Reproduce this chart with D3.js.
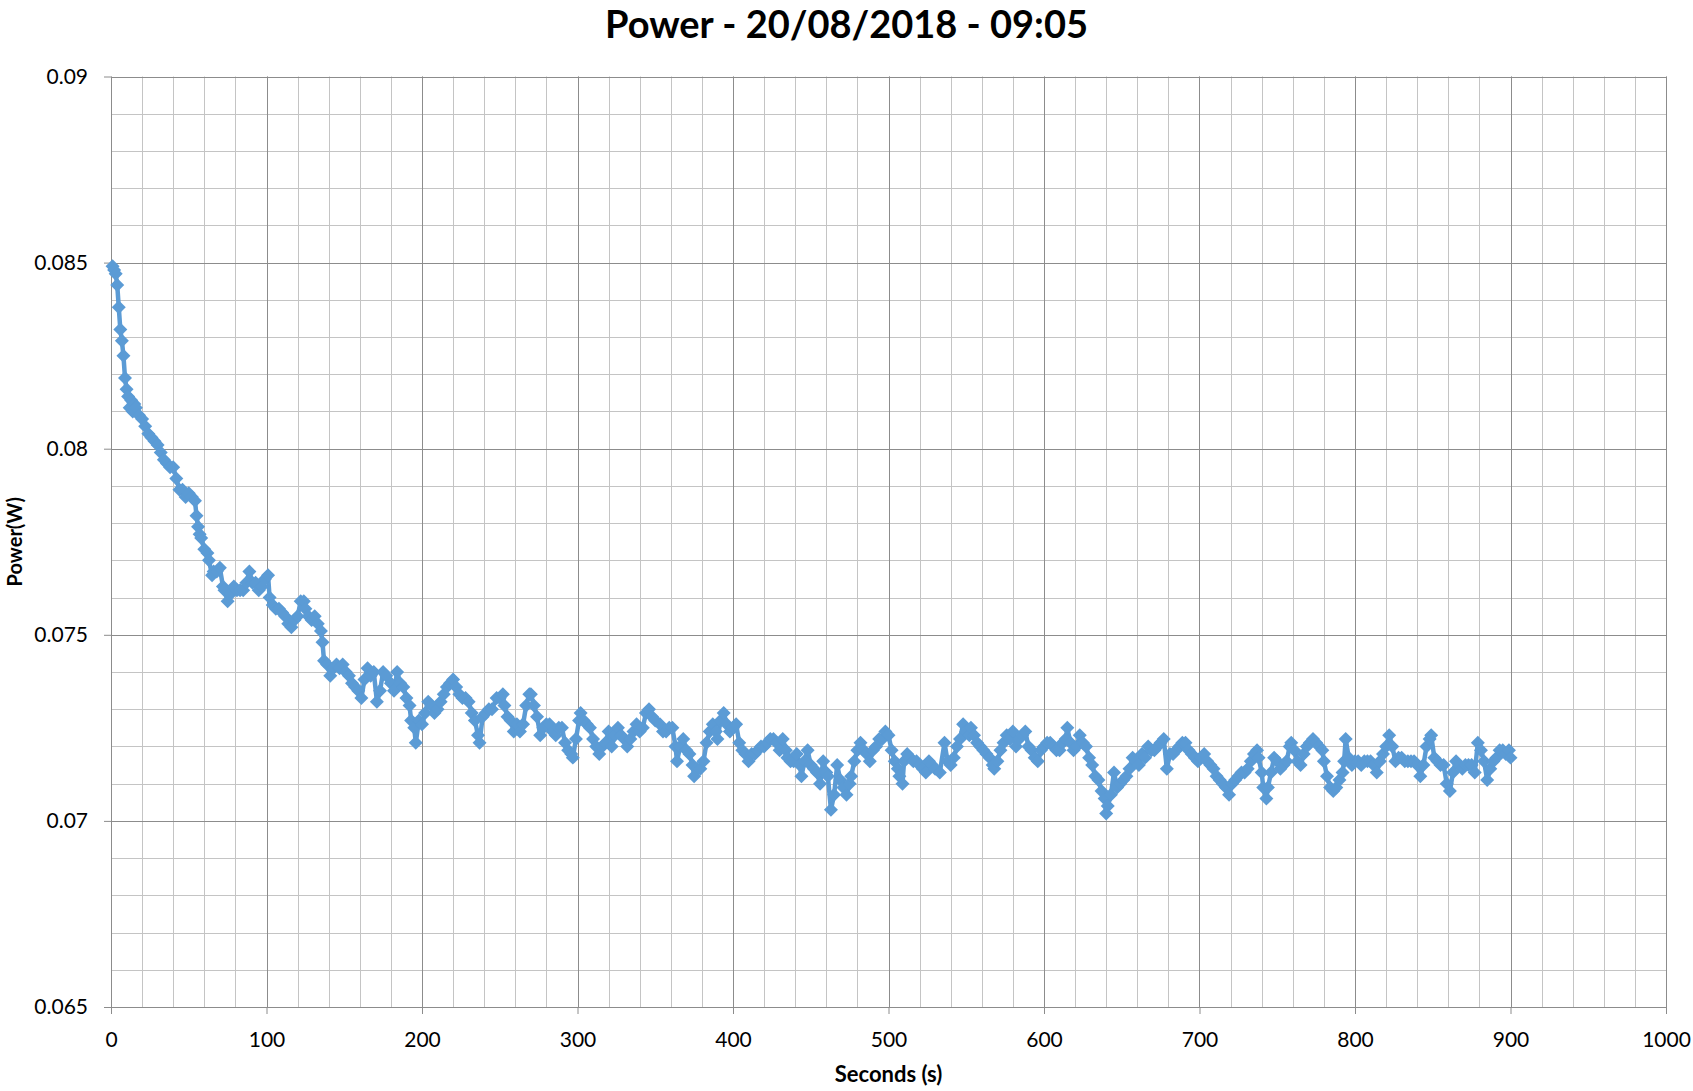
<!DOCTYPE html>
<html>
<head>
<meta charset="utf-8">
<script src="https://cdn.jsdelivr.net/npm/d3@7"></script>
<style>
    body { margin: 0; background: #ffffff; }
    .gridMinor { stroke: #c4c4c4; stroke-width: 1; }
    .gridMajor { stroke: #8c8c8c; stroke-width: 1; }
    .axis path { display: none; }
    .axis line { stroke: #8c8c8c; }
    .axis text { font-family: Lato, "Open Sans", sans-serif; font-size: 21px; fill: #000; }
</style>
</head>
<body>
<script>
//wrap everything in a self-executing anonymous function to move to local scope
(function(){

    //chart texts
    var chartTitle = "Power - 20/08/2018 - 09:05";
    var xTitle = "Seconds (s)";
    var yTitle = "Power(W)";

    //tick labels
    var xTicks = [0, 100, 200, 300, 400, 500, 600, 700, 800, 900, 1000];
    var yTicks = [0.065, 0.07, 0.075, 0.08, 0.085, 0.09];

    //seconds of each reading
    var seconds = [1,2,3,4,5,6,7,8,9,10,11,12,13,14,15,16,18,20,22,24,26,28,30,32,34,36,38,40,42,44,46,48,50,52,54,55,56,57,58,60,
        62,63,65,66,68,70,72,73,75,77,79,81,83,85,87,89,91,93,95,97,99,101,102,104,106,108,110,112,114,116,118,120,122,124,125,127,129,131,133,135,
        136,137,139,141,143,145,147,149,151,153,155,157,159,161,163,165,167,169,171,173,175,177,180,182,184,186,188,190,192,193,195,196,198,200,
        202,204,206,208,210,212,214,216,218,220,222,224,226,228,230,232,234,236,237,239,241,243,245,248,250,252,253,255,257,259,
        261,263,265,267,269,270,272,274,276,278,280,282,284,286,288,290,292,294,296,297,299,301,302,304,306,308,310,312,314,316,318,320,
        322,324,326,328,330,332,334,336,338,340,342,344,346,348,350,353,355,357,359,361,363,364,366,368,370,372,374,375,377,379,
        381,383,385,387,389,390,392,394,396,398,400,402,404,406,408,410,412,414,416,418,420,422,424,426,428,430,432,434,435,437,439,
        441,443,444,446,448,450,452,454,456,458,460,461,463,465,467,469,471,473,475,476,478,480,482,484,486,488,490,492,494,496,498,500,
        502,504,506,507,509,510,512,514,516,518,520,522,524,526,528,530,533,536,538,540,542,544,546,548,550,552,553,555,557,559,
        561,563,565,567,568,570,572,574,576,578,580,582,584,586,588,590,592,594,596,598,600,602,604,606,608,610,612,614,615,617,619,
        621,623,625,627,629,631,633,635,637,639,640,641,643,645,647,649,651,653,655,657,659,661,663,665,667,669,671,673,675,677,679,
        681,683,685,687,689,691,693,695,697,699,701,703,705,707,709,711,713,715,717,719,721,723,725,727,729,731,733,735,737,738,740,
        741,743,744,746,748,750,752,754,756,758,759,761,763,765,767,769,771,773,775,777,779,780,782,784,786,788,790,792,793,794,796,798,800,
        802,804,806,808,810,812,814,816,818,820,822,824,826,828,830,832,834,836,838,840,842,844,846,848,849,851,853,855,857,859,
        861,863,865,867,869,871,873,875,877,879,881,883,885,887,889,891,893,895,897,899,900];

    //power readings (W)
    var power = [0.0849,0.0848,0.0847,0.0844,0.0838,0.0832,0.0829,0.0825,0.0819,0.0816,0.0814,0.0811,0.0813,0.0810,0.0812,0.0811,0.0809,0.0808,0.0806,0.0804,
        0.0803,0.0802,0.0801,0.0799,0.0797,0.0796,0.0795,0.0795,0.0792,0.0789,0.0789,0.0787,0.0788,0.0787,0.0786,0.0782,0.0779,0.0777,0.0776,0.0773,
        0.0772,0.0770,0.0766,0.0767,0.0767,0.0768,0.0763,0.0762,0.0759,0.0761,0.0763,0.0762,0.0762,0.0762,0.0764,0.0767,0.0764,0.0764,0.0762,0.0763,
        0.0765,0.0766,0.0760,0.0758,0.0757,0.0757,0.0756,0.0755,0.0753,0.0752,0.0754,0.0755,0.0759,0.0759,0.0757,0.0755,0.0754,0.0755,0.0753,0.0751,
        0.0748,0.0743,0.0742,0.0739,0.0741,0.0742,0.0741,0.0742,0.0740,0.0739,0.0737,0.0736,0.0735,0.0733,0.0738,0.0741,0.0739,0.0740,0.0732,0.0735,
        0.0740,0.0739,0.0737,0.0735,0.0740,0.0737,0.0736,0.0733,0.0731,0.0727,0.0725,0.0721,0.0727,0.0726,
        0.0729,0.0732,0.0731,0.0729,0.0730,0.0732,0.0734,0.0736,0.0737,0.0738,0.0736,0.0734,0.0733,0.0733,0.0732,0.0729,0.0727,0.0723,0.0721,0.0728,
        0.0729,0.0730,0.0730,0.0733,0.0733,0.0734,0.0731,0.0728,0.0727,0.0724,
        0.0726,0.0724,0.0726,0.0731,0.0734,0.0734,0.0731,0.0728,0.0723,0.0725,0.0726,0.0726,0.0724,0.0723,0.0725,0.0725,0.0721,0.0719,0.0718,0.0717,
        0.0722,0.0727,0.0729,0.0727,0.0726,0.0725,0.0722,0.0720,0.0718,0.0720,0.0721,0.0724,
        0.0720,0.0723,0.0725,0.0723,0.0722,0.0720,0.0722,0.0724,0.0726,0.0724,0.0725,0.0729,0.0730,0.0728,0.0727,0.0726,0.0724,0.0724,0.0725,0.0725,
        0.0720,0.0716,0.0720,0.0722,0.0719,0.0718,0.0715,0.0712,0.0714,0.0714,
        0.0716,0.0721,0.0724,0.0726,0.0724,0.0722,0.0727,0.0729,0.0726,0.0724,0.0725,0.0726,0.0721,0.0719,0.0718,0.0716,0.0718,0.0718,0.0719,0.0720,
        0.0720,0.0721,0.0722,0.0722,0.0721,0.0719,0.0722,0.0719,0.0717,0.0716,0.0716,
        0.0718,0.0715,0.0712,0.0716,0.0719,0.0715,0.0714,0.0713,0.0710,0.0716,0.0713,0.0712,0.0703,0.0707,0.0715,0.0711,0.0709,0.0707,0.0710,0.0712,
        0.0716,0.0719,0.0721,0.0719,0.0718,0.0716,0.0719,0.0720,0.0722,0.0722,0.0724,0.0723,
        0.0719,0.0716,0.0714,0.0712,0.0710,0.0716,0.0718,0.0717,0.0716,0.0716,0.0715,0.0714,0.0713,0.0716,0.0715,0.0714,0.0713,0.0721,0.0716,0.0715,
        0.0717,0.0720,0.0722,0.0726,0.0724,0.0723,0.0725,0.0723,0.0721,0.0720,
        0.0719,0.0718,0.0717,0.0715,0.0714,0.0716,0.0719,0.0721,0.0723,0.0722,0.0724,0.0720,0.0722,0.0723,0.0724,0.0720,0.0719,0.0717,0.0716,0.0719,
        0.0720,0.0721,0.0721,0.0720,0.0719,0.0719,0.0721,0.0722,0.0725,0.0721,0.0719,
        0.0720,0.0723,0.0721,0.0720,0.0717,0.0715,0.0712,0.0711,0.0708,0.0706,0.0702,0.0704,0.0707,0.0713,0.0709,0.0710,0.0711,0.0712,0.0714,0.0717,
        0.0716,0.0715,0.0718,0.0717,0.0720,0.0719,0.0719,0.0720,0.0721,0.0722,0.0714,
        0.0718,0.0718,0.0719,0.0720,0.0721,0.0721,0.0719,0.0718,0.0717,0.0716,0.0717,0.0718,0.0716,0.0715,0.0714,0.0712,0.0711,0.0710,0.0709,0.0707,
        0.0710,0.0711,0.0712,0.0713,0.0713,0.0714,0.0716,0.0718,0.0719,0.0717,0.0713,
        0.0709,0.0706,0.0709,0.0713,0.0717,0.0716,0.0714,0.0715,0.0716,0.0720,0.0721,0.0719,0.0716,0.0715,0.0718,0.0720,0.0721,0.0722,0.0721,0.0720,
        0.0719,0.0716,0.0712,0.0709,0.0708,0.0709,0.0711,0.0713,0.0716,0.0722,0.0717,0.0715,0.0716,
        0.0716,0.0715,0.0716,0.0716,0.0716,0.0715,0.0713,0.0716,0.0718,0.0720,0.0723,0.0720,0.0716,0.0717,0.0717,0.0716,0.0716,0.0716,0.0716,0.0715,
        0.0712,0.0715,0.0720,0.0722,0.0723,0.0717,0.0716,0.0715,0.0715,0.0710,
        0.0708,0.0713,0.0716,0.0715,0.0714,0.0715,0.0715,0.0715,0.0713,0.0721,0.0719,0.0716,0.0711,0.0714,0.0716,0.0717,0.0719,0.0719,0.0718,0.0719,0.0717];

    //begin script when window loads
    window.onload = setChart();

function setChart(){

    //frame dimensions
    var width = 1693,
        height = 1091;

    var margin = {left: 111, right: 27, top: 76.5, bottom: 84};

    var svg = d3.select("body")
        .append("svg")
        .attr("width", width)
        .attr("height", height);

    svg.append("rect")
        .attr("width", width)
        .attr("height", height)
        .attr("fill", "#ffffff");

    //scales
    var x = d3.scaleLinear()
        .domain([0, 1000])
        .range([margin.left, width - margin.right]);

    var y = d3.scaleLinear()
        .domain([0.065, 0.09])
        .range([height - margin.bottom, margin.top]);

    setGrid(svg, x, y);

    //axes
    var xAxis = svg.append("g")
        .attr("class", "axis")
        .attr("transform", "translate(0," + y.range()[0] + ")")
        .call(d3.axisBottom(x).tickValues(xTicks).tickSize(7).tickPadding(18).tickFormat(d3.format("d")));

    var yAxis = svg.append("g")
        .attr("class", "axis")
        .attr("transform", "translate(" + x.range()[0] + ",0)")
        .call(d3.axisLeft(y).tickValues(yTicks).tickSize(7).tickPadding(16).tickFormat(d3.format("~g")));

    //series line
    var points = seconds.map(function(s, i){ return [s, power[i]]; });

    var line = d3.line()
        .x(function(d){ return x(d[0]); })
        .y(function(d){ return y(d[1]); });

    svg.append("path")
        .datum(points)
        .attr("class", "series")
        .attr("fill", "none")
        .attr("stroke", "#5b9bd5")
        .attr("stroke-width", 4.5)
        .attr("stroke-linejoin", "round")
        .attr("d", line);

    //diamond markers
    var diamond = d3.symbol().type(d3.symbolSquare).size(98);

    svg.selectAll(".marker")
        .data(points)
        .enter()
        .append("path")
        .attr("class", "marker")
        .attr("fill", "#5b9bd5")
        .attr("transform", function(d){
            return "translate(" + x(d[0]) + "," + y(d[1]) + ") rotate(45)";
        })
        .attr("d", diamond);

    //titles
    svg.append("text")
        .attr("x", width / 2)
        .attr("y", 38)
        .attr("text-anchor", "middle")
        .style("font-family", "Lato, 'Open Sans', sans-serif")
        .style("font-weight", "bold")
        .style("font-size", "38px")
        .text(chartTitle);

    svg.append("text")
        .attr("x", (x.range()[0] + x.range()[1]) / 2)
        .attr("y", 1082)
        .attr("text-anchor", "middle")
        .style("font-family", "Lato, 'Open Sans', sans-serif")
        .style("font-weight", "bold")
        .style("font-size", "22px")
        .text(xTitle);

    svg.append("text")
        .attr("transform", "translate(22," + ((y.range()[0] + y.range()[1]) / 2) + ") rotate(-90)")
        .attr("text-anchor", "middle")
        .style("font-family", "Lato, 'Open Sans', sans-serif")
        .style("font-weight", "bold")
        .style("font-size", "20px")
        .text(yTitle);
};

function setGrid(svg, x, y){
    //minor grid lines every 20 s and every 0.001 W
    svg.selectAll(".gridMinorX")
        .data(x.ticks(50))
        .enter()
        .append("line")
        .attr("class", "gridMinor")
        .attr("x1", function(d){ return Math.round(x(d)) + 0.5; })
        .attr("x2", function(d){ return Math.round(x(d)) + 0.5; })
        .attr("y1", y.range()[1])
        .attr("y2", y.range()[0]);

    svg.selectAll(".gridMinorY")
        .data(y.ticks(25))
        .enter()
        .append("line")
        .attr("class", "gridMinor")
        .attr("x1", x.range()[0])
        .attr("x2", x.range()[1])
        .attr("y1", function(d){ return Math.round(y(d)) + 0.5; })
        .attr("y2", function(d){ return Math.round(y(d)) + 0.5; });

    //major grid lines on the labelled ticks
    svg.selectAll(".gridMajorX")
        .data(xTicks)
        .enter()
        .append("line")
        .attr("class", "gridMajor")
        .attr("x1", function(d){ return Math.round(x(d)) + 0.5; })
        .attr("x2", function(d){ return Math.round(x(d)) + 0.5; })
        .attr("y1", y.range()[1])
        .attr("y2", y.range()[0]);

    svg.selectAll(".gridMajorY")
        .data(yTicks)
        .enter()
        .append("line")
        .attr("class", "gridMajor")
        .attr("x1", x.range()[0])
        .attr("x2", x.range()[1])
        .attr("y1", function(d){ return Math.round(y(d)) + 0.5; })
        .attr("y2", function(d){ return Math.round(y(d)) + 0.5; });
};

})();
</script>
</body>
</html>
